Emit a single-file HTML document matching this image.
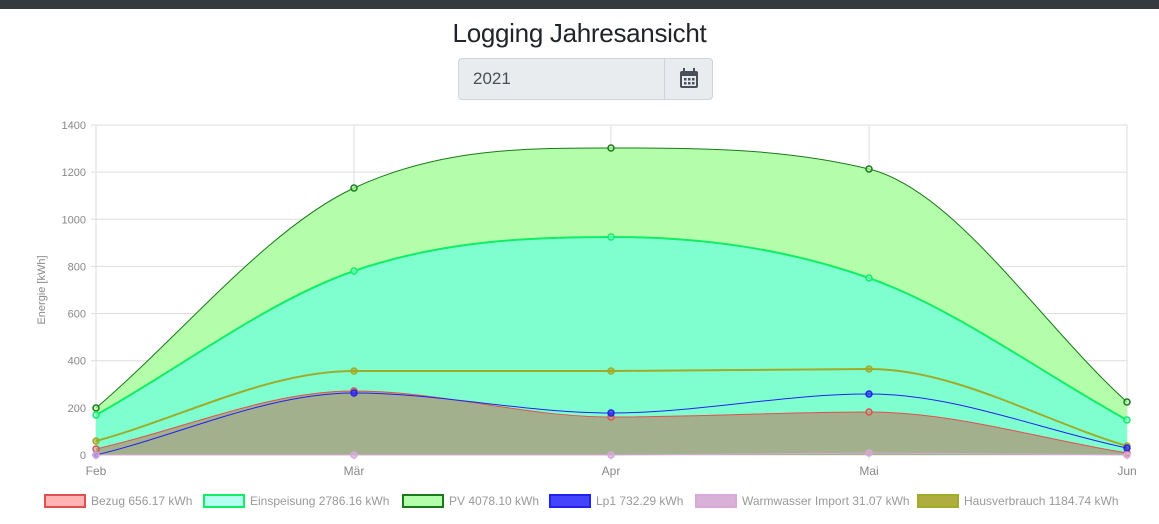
<!DOCTYPE html>
<html><head><meta charset="utf-8"><style>
body{margin:0;width:1159px;height:524px;background:#fff;font-family:"Liberation Sans",sans-serif;overflow:hidden;position:relative}
.top{position:absolute;left:0;top:0;width:1159px;height:9px;background:#343a40}
h1{position:absolute;top:18px;left:0;width:1159px;text-align:center;margin:0;font-size:26px;font-weight:500;color:#212529;letter-spacing:-0.3px}
.inp{position:absolute;left:458px;top:58px;width:253px;height:40px;border:1px solid #ced4da;border-radius:4px;background:#e9ecef}
.inp span{position:absolute;left:14px;top:10px;font-size:17px;color:#495057}
.inp .b{position:absolute;left:205px;top:0;width:48px;height:40px;border-left:1px solid #ced4da}
</style></head><body>
<div class="top"></div>
<h1>Logging Jahresansicht</h1>
<div class="inp"><span>2021</span><div class="b">
<svg width="48" height="40"><rect x="15" y="12" width="18" height="17" rx="2" fill="#495057"/><rect x="17" y="17" width="14" height="10" fill="#e9ecef"/><rect x="18" y="9" width="2" height="5" fill="#495057"/><rect x="28" y="9" width="2" height="5" fill="#495057"/><g fill="#495057"><rect x="19" y="19" width="2.5" height="2.5"/><rect x="23" y="19" width="2.5" height="2.5"/><rect x="27" y="19" width="2.5" height="2.5"/><rect x="19" y="23" width="2.5" height="2.5"/><rect x="23" y="23" width="2.5" height="2.5"/><rect x="27" y="23" width="2.5" height="2.5"/></g></svg></div></div>
<svg id="c" width="1159" height="524" style="position:absolute;left:0;top:0"></svg>
<script>
const X=[96,354,611,869,1127];
function yv(v){return 455-v*330/1400}
function path(ys){const n=ys.length,h=X[1]-X[0];const d=[];for(let i=0;i<n-1;i++)d.push((ys[i+1]-ys[i])/h);
const m=[d[0]];for(let i=1;i<n-1;i++){m.push(d[i-1]*d[i]<=0?0:(d[i-1]+d[i])/2)}m.push(d[n-2]);
for(let i=0;i<n-1;i++){if(d[i]==0){m[i]=m[i+1]=0;continue}const a=m[i]/d[i],b=m[i+1]/d[i],s=a*a+b*b;if(s>9){const t=3/Math.sqrt(s);m[i]=t*a*d[i];m[i+1]=t*b*d[i]}}
let p="M"+X[0]+","+ys[0];for(let i=0;i<n-1;i++){const dx=h/3;p+=` C${X[i]+dx},${ys[i]+m[i]*dx} ${X[i+1]-dx},${ys[i+1]-m[i+1]*dx} ${X[i+1]},${ys[i+1]}`}return p}
let s="";
for(let v=0;v<=1400;v+=200){const y=yv(v);s+=`<line x1="91" x2="1127" y1="${y}" y2="${y}" stroke="#ddd"/><text x="86" y="${y+4}" text-anchor="end" font-size="11" fill="#888">${v}</text>`}
const L=["Feb","Mär","Apr","Mai","Jun"];
X.forEach((x,i)=>{s+=`<line x1="${x}" x2="${x}" y1="125" y2="460" stroke="#ddd"/><text x="${x}" y="475" text-anchor="middle" font-size="12" fill="#888">${L[i]}</text>`});
s+=`<text transform="translate(45,290) rotate(-90)" text-anchor="middle" font-size="11" fill="#888">Energie [kWh]</text>`;
const D=[
["PV",[408,188,148,169,402],"#b4fdab","#1a7a1a",1],
["E",[415,271,237,278,420],"#7fffcf","#11ee66",2],
["H",[441,371,371,369,446],null,"#9eac2a",2],
["B",[449,391,417,412,453],"#a3b08e","#e05050",1],
["L",[455,393,413,394,448],null,"#2222ee",1],
["W",[455,455,455,453,455],null,"#d8a8d8",1]];
D.forEach(d=>{const p=path(d[1]);if(d[2])s+=`<path d="${p} L1127,455 L96,455Z" fill="${d[2]}"/>`;});
D.forEach(d=>{s+=`<path d="${path(d[1])}" fill="none" stroke="${d[3]}" stroke-width="${d[4]}"/>`;d[1].forEach((y,i)=>s+=`<circle cx="${X[i]}" cy="${y}" r="3" fill="${d[2]||d[3]}" fill-opacity="0.6" stroke="${d[3]}" stroke-width="1.5"/>`)});
const G=[[45,"Bezug 656.17 kWh","#ffb3b3","#e05050"],[204,"Einspeisung 2786.16 kWh","#b3fff0","#11ee66"],[403,"PV 4078.10 kWh","#b4fdab","#1a7a1a"],[550,"Lp1 732.29 kWh","#4444ff","#2222ee"],[696,"Warmwasser Import 31.07 kWh","#d8b0d8","#d8a8d8"],[918,"Hausverbrauch 1184.74 kWh","#b0ad40","#9eac2a"]];
G.forEach(g=>{s+=`<rect x="${g[0]}" y="495" width="40" height="12" fill="${g[2]}" stroke="${g[3]}" stroke-width="2"/><text x="${g[0]+46}" y="505" font-size="12" fill="#999">${g[1]}</text>`});
document.getElementById("c").innerHTML=s;
</script>
</body></html>
